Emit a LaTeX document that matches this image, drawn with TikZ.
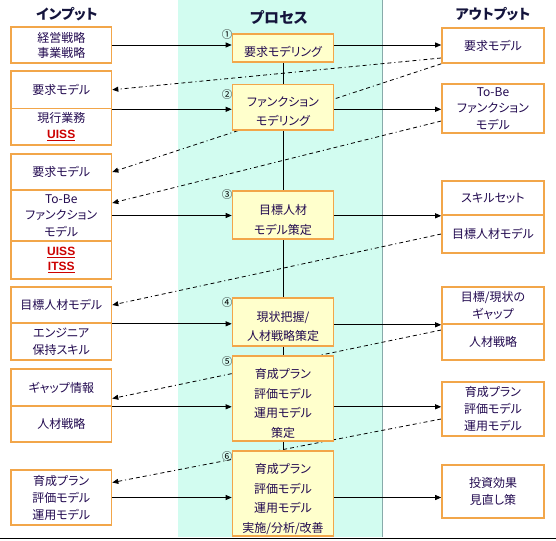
\documentclass[tikz,border=0pt]{standalone}
\usepackage{fontspec}
\setmainfont{Noto Sans CJK JP}[RawFeature=+palt]
\newfontfamily\latinb{Liberation Sans}
\usetikzlibrary{arrows.meta,backgrounds,calc}
\definecolor{obord}{HTML}{F2A64A}
\definecolor{pfill}{HTML}{FFFFCC}
\definecolor{colcyan}{HTML}{D2FCF0}
\definecolor{colline}{HTML}{88AAAA}
\definecolor{txt}{HTML}{220A50}
\definecolor{headc}{HTML}{14143C}
\definecolor{tagred}{HTML}{CC0000}
\newcommand{\redtag}[1]{{\latinb\bfseries\color{tagred}\underline{#1}}}
\begin{document}
\begin{tikzpicture}[x=1pt,y=-1pt,
  ibox/.style={draw=obord,line width=1.6pt,fill=white,minimum width=100.5pt,inner sep=0pt,align=center,text=txt,font=\fontsize{12}{17}\selectfont},
  obox/.style={ibox,minimum width=102pt},
  pbox/.style={draw=obord,line width=1.6pt,fill=pfill,minimum width=101pt,inner sep=0pt},
  ptext/.style={align=center,text=txt,font=\fontsize{12}{19.5}\selectfont,inner sep=0pt},
  head/.style={text=headc,font=\fontsize{14}{16}\selectfont\bfseries,inner sep=0pt},
  num/.style={font=\fontsize{10.5}{10.5}\selectfont,inner sep=0pt,text=black},
  flow/.style={line width=0.8pt,-{Triangle[length=6pt,width=5pt]}},
  back/.style={line width=0.8pt,dash pattern=on 4pt off 3pt on 4pt off 3pt on 4pt off 3pt on 1pt off 3pt,-{Triangle[length=6pt,width=5pt]}}
]
\useasboundingbox (0,0) rectangle (556,540);

% headers
\node[head] (hin) at (67,14) {インプット};
\node[head,font=\fontsize{15}{17}\selectfont\bfseries] (hproc) at (279,18) {プロセス};
\node[head] (hout) at (493,14) {アウトプット};

% input boxes
\node[ibox,minimum height=36pt,font=\fontsize{12}{15}\selectfont] (L1) at (61.25,45) {経営戦略\\事業戦略};
\node[ibox,minimum height=37.5pt] (L2a) at (61.25,89.75) {要求モデル};
\node[ibox,minimum height=36.5pt,font=\fontsize{12}{16}\selectfont] (L2b) at (61.25,126.75) {現行業務\\\redtag{UISS}};
\node[ibox,minimum height=36pt] (L3a) at (61.25,172) {要求モデル};
\node[ibox,minimum height=51pt,font=\fontsize{12}{16.5}\selectfont] (L3b) at (61.25,215.5) {To-Be\\ファンクション\\モデル};
\node[ibox,minimum height=38pt,font=\fontsize{12}{14.5}\selectfont] (L3c) at (61.25,260) {\redtag{UISS}\\\redtag{ITSS}};
\node[ibox,minimum height=36pt] (L4a) at (61.25,305) {目標人材モデル};
\node[ibox,minimum height=37pt] (L4b) at (61.25,341.5) {エンジニア\\保持スキル};
\node[ibox,minimum height=37pt] (L5a) at (61.25,387.5) {ギャップ情報};
\node[ibox,minimum height=36pt] (L5b) at (61.25,424) {人材戦略};
\node[ibox,minimum height=55pt] (L6) at (61.25,497.5) {育成プラン\\評価モデル\\運用モデル};

% process boxes
\node[pbox,minimum height=28pt] (P1) at (283,47.75) {};
\node[pbox,minimum height=45.5pt] (P2) at (283,107.25) {};
\node[pbox,minimum height=48pt] (P3) at (283,215) {};
\node[pbox,minimum height=48pt] (P4) at (283,322) {};
\node[pbox,minimum height=85pt] (P5) at (283,398.5) {};
\node[pbox,minimum height=85pt] (P6) at (283,493.5) {};
\node[ptext] (P1t) at ([yshift=-4pt]P1.center) {要求モデリング};
\node[ptext] (P2t) at ([yshift=-4.5pt]P2.center) {ファンクション\\モデリング};
\node[ptext] (P3t) at ([yshift=-5pt]P3.center) {目標人材\\モデル策定};
\node[ptext] (P4t) at ([yshift=-4.5pt]P4.center) {現状把握/\\人材戦略策定};
\node[ptext] (P5t) at ([yshift=-5pt]P5.center) {育成プラン\\評価モデル\\運用モデル\\策定};
\node[ptext] (P6t) at ([yshift=-5.5pt]P6.center) {育成プラン\\評価モデル\\運用モデル\\実施/分析/改善};

% numbers
\node[num] (n1) at (227,35) {①};
\node[num] (n2) at (227,95) {②};
\node[num] (n3) at (227,195) {③};
\node[num] (n4) at (227,303) {④};
\node[num] (n5) at (227,362) {⑤};
\node[num] (n6) at (227,457) {⑥};

% output boxes
\node[obox,minimum height=35pt] (O1) at (493,45.5) {要求モデル};
\node[obox,minimum height=49pt,font=\fontsize{12}{16.5}\selectfont] (O2) at (493,108.5) {To-Be\\ファンクション\\モデル};
\node[obox,minimum height=34pt] (O3a) at (493,198) {スキルセット};
\node[obox,minimum height=38pt] (O3b) at (493,234) {目標人材モデル};
\node[obox,minimum height=37pt] (O4a) at (493,305.5) {目標/現状の\\ギャップ};
\node[obox,minimum height=36pt] (O4b) at (493,342) {人材戦略};
\node[obox,minimum height=54pt] (O5) at (493,409) {育成プラン\\評価モデル\\運用モデル};
\node[obox,minimum height=53pt] (O6) at (493,491.5) {投資効果\\見直し策};

\begin{scope}[on background layer]
  \fill[colcyan] (178,0) rectangle (382,537);
  \draw[colline,line width=0.8pt] (382,0) -- (382,537);
  \draw[black,line width=0.8pt] (0,538) -- (556,538);
  \draw[line width=0.8pt] (P1.south) -- (P6.north);
  % solid flows
  \draw[flow] (L1.east) -- (L1.east -| P1.west);
  \draw[flow] (L1.east -| P1.east) -- (L1.east -| O1.west);
  \draw[flow] (L2a.south east) -- (L2a.south east -| P2.west);
  \draw[flow] (L2a.south east -| P2.east) -- (L2a.south east -| O2.west);
  \draw[flow] (L3b.east) -- (L3b.east -| P3.west);
  \draw[flow] (O3a.south west -| P3.east) -- (O3a.south west);
  \draw[flow] (L4a.south east) -- (L4a.south east -| P4.west);
  \draw[flow] (O4a.south west -| P4.east) -- (O4a.south west);
  \draw[flow] (L5a.south east) -- (L5a.south east -| P5.west);
  \draw[flow] (L5a.south east -| P5.east) -- (L5a.south east -| O5.west);
  \draw[flow] (L6.east) -- (L6.east -| P6.west);
  \draw[flow] (L6.east -| P6.east) -- (L6.east -| O6.west);
  % dashed feedback
  \draw[back] ([yshift=-12.5pt]O1.west) -- (L2a.east);
  \draw[back] (O1.south west) -- (L3a.east);
  \draw[back] ([yshift=-12.5pt]O2.west) -- ([yshift=12.5pt]L3b.east);
  \draw[back] (O3b.west) -- (L4a.east);
  \draw[back] ([yshift=12pt]O4b.west) -- ([yshift=-11pt]L5a.east);
  \draw[back] ([yshift=-10pt]O5.west) -- ([yshift=15pt]L6.east);
\end{scope}
\end{tikzpicture}
\end{document}
